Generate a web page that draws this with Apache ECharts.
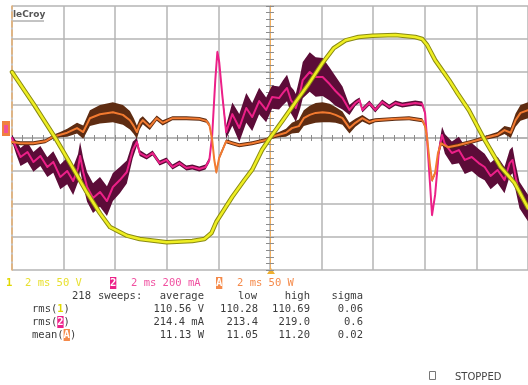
<!DOCTYPE html>
<html><head><meta charset="utf-8">
<script src="https://cdn.jsdelivr.net/npm/echarts@6/dist/echarts.min.js"></script>
<style>html,body{margin:0;padding:0;background:#fff}#c{width:528px;height:385px}</style>
</head><body><div id="c"></div>
<script>
// Channel 1: line voltage (V), 50 V/div
const timeV = [-10,-9.17,-8.32,-7.75,-7.09,-6.59,-6.2,-5.55,-5.05,-4.01,-3.01,-2.54,-2.27,-2.08,-1.77,-1.46,-1.0,-0.69,-0.31,0,0.5,1.0,1.5,2.04,2.47,2.93,3.43,3.97,4.86,5.63,5.9,6.09,6.4,6.94,7.28,7.71,8.28,8.94,9.48,10];
const volts = [100,52,0,-38,-83,-114,-135,-148,-153,-158,-156,-153,-144,-127,-108,-89,-64,-48,-18,0,27,55,82,114,136,148,153,155,156,153,150,141,118,88,67,42,0,-44,-68,-106];

// Channel 2: current (mA), 200 mA/div, with sweep spread (persistence envelope half-width)
const timeI = [-10,-9.83,-9.67,-9.4,-9.17,-8.9,-8.63,-8.4,-8.13,-7.86,-7.63,-7.44,-7.36,-7.24,-7.09,-6.86,-6.59,-6.32,-6.09,-5.82,-5.55,-5.32,-5.16,-5.05,-4.78,-4.55,-4.28,-4.01,-3.78,-3.51,-3.24,-3.01,-2.74,-2.5,-2.35,-2.24,-2.12,-2.04,-1.97,-1.85,-1.7,-1.46,-1.19,-0.92,-0.69,-0.42,-0.15,0.08,0.35,0.5,0.66,0.81,0.92,1.0,1.16,1.27,1.54,1.77,2.04,2.31,2.54,2.81,3.08,3.31,3.47,3.58,3.85,4.08,4.35,4.62,4.86,5.13,5.63,5.9,6.01,6.09,6.2,6.28,6.4,6.55,6.67,6.78,7.05,7.32,7.55,7.82,8.09,8.32,8.55,8.82,9.09,9.29,9.4,9.52,9.67,9.87,10];
const currentMA = [0,-61,-115,-85,-145,-109,-176,-145,-236,-200,-261,-182,-109,-206,-297,-364,-327,-382,-297,-255,-206,-73,-24,-91,-115,-91,-152,-133,-176,-152,-182,-176,-188,-176,-133,18,352,521,461,261,36,145,61,182,127,224,170,248,242,273,303,230,206,182,273,351,400,370,370,327,285,242,170,212,230,170,212,170,218,188,212,200,212,206,152,-12,-273,-467,-345,-73,18,-36,-91,-73,-133,-115,-152,-176,-230,-194,-255,-152,-133,-236,-345,-394,-424];
const currentSpreadMA = [20,40,55,60,60,60,60,65,75,80,85,85,85,85,90,90,90,90,85,80,70,50,25,18,15,15,15,15,15,15,15,15,15,15,15,12,12,12,12,15,40,70,85,90,85,80,75,70,70,75,80,80,85,85,100,110,120,120,115,100,90,70,30,18,15,15,15,15,15,15,15,15,15,15,12,12,12,12,12,30,50,60,70,80,85,85,85,80,80,80,80,80,80,80,80,80,80];

// Math channel A: power (W), 50 W/div
const timeP = [-10,-9.67,-9.17,-8.71,-8.4,-8.13,-7.86,-7.48,-7.24,-6.98,-6.59,-6.09,-5.7,-5.43,-5.28,-5.16,-5.05,-4.93,-4.66,-4.39,-4.16,-3.78,-3.24,-2.74,-2.47,-2.35,-2.24,-2.16,-2.08,-1.97,-1.7,-1.46,-1.19,-0.69,-0.15,0.08,0.35,0.62,0.85,1.12,1.31,1.54,1.77,2.04,2.31,2.54,2.81,3.08,3.31,3.58,3.85,4.08,4.86,5.39,5.9,6.01,6.09,6.2,6.28,6.4,6.51,6.63,6.9,7.28,7.78,8.32,8.82,9.09,9.33,9.52,9.71,10];
const powerW = [-6,-8,-8,-5,2,5,8,15,9,30,36,39,35,27,18,9,21,27,17,30,23,30,30,29,26,20,-3,-33,-52,-30,-5,-8,-11,-8,-3,2,5,8,15,18,30,35,38,39,38,35,30,15,23,30,24,27,29,30,27,18,0,-41,-64,-53,-23,-8,-14,-11,-6,0,5,12,8,27,38,42];
const powerSpreadW = [3,3,3,3,3,4,6,8,10,12,14,15,15,14,12,10,8,6,5,4,4,3,3,3,3,3,3,3,3,3,3,3,3,3,3,3,4,6,8,10,12,14,15,15,14,12,10,8,6,5,4,3,3,3,3,3,3,3,3,3,3,3,3,3,3,3,4,6,8,10,12,12];

// Text blocks
const channelLabels = ['2 ms 50 V', '2 ms 200 mA', '2 ms 50 W'];
const sweepCount = '218';
const statHeaders = ['average', 'low', 'high', 'sigma'];
const statNames = ['rms({y|1})', 'rms({p|2})', 'mean({o|A})'];
const statAverage = ['110.56 V', '214.4 mA', '11.13 W'];
const statLow = ['110.28', '213.4', '11.05'];
const statHigh = ['110.69', '219.0', '11.20'];
const statSigma = ['0.06', '0.6', '0.02'];

const zip = (a, b) => a.map((v, i) => [v, b[i]]);

const YEL = '#eeee22', YEL_EDGE = '#8a8a12';
const PINK = '#ec2088', MAROON = '#5c0c38';
const ORANGE = '#f27a30', BROWN = '#5e2c12';
const GRID = '#b4b4b4';
const MONO = '"DejaVu Sans Mono", "Liberation Mono", monospace';
const FONT = '10.5px ' + MONO;

function band(times, vals, spread, yIdx, color) {
  return {
    type: 'custom', xAxisIndex: 0, yAxisIndex: yIdx, clip: true, silent: true,
    data: [[times[0], vals[0]]],
    renderItem: function (params, api) {
      const up = [], lo = [];
      for (let i = 0; i < times.length; i++) {
        up.push(api.coord([times[i], vals[i] + spread[i]]));
        lo.push(api.coord([times[i], vals[i] - spread[i]]));
      }
      return { type: 'polygon', shape: { points: up.concat(lo.reverse()) }, style: { fill: color } };
    }
  };
}
function line(times, vals, yIdx, color, width) {
  return { type: 'line', xAxisIndex: 0, yAxisIndex: yIdx, data: zip(times, vals), symbol: 'none', showSymbol: false,
    silent: true, clip: true, lineStyle: { color: color, width: width, join: 'round', cap: 'round' } };
}
function txt(x, y, s, color, align, rich, font) {
  return { type: 'text', x: x, y: y, silent: true, z: 100,
    style: { text: s, fill: color, font: font || FONT, align: align || 'left', verticalAlign: 'middle',
      textAlign: align || 'left', textVerticalAlign: 'middle', rich: rich || {} } };
}
const boxRich = {
  y: { fill: '#e0d800', font: 'bold 10.5px ' + MONO },
  p: { fill: '#fff', backgroundColor: PINK, font: 'bold 10.5px ' + MONO, padding: [1, 0, 0, 0] },
  o: { fill: '#fff', backgroundColor: '#f58a4a', font: 'bold 10.5px ' + MONO, padding: [1, 0, 0, 0] }
};

const xBase = { type: 'value', min: -10, max: 10, interval: 2, axisLabel: { show: false } };
const yTickStyle = { color: '#8c8c8c', width: 1 };

const graphics = [
  txt(13, 15, 'leCroy', '#555', 'left', null, 'bold 9px "DejaVu Sans", sans-serif'),
  { type: 'line', silent: true, shape: { x1: 13, y1: 21, x2: 44, y2: 21 }, style: { stroke: '#888', lineWidth: 1 } },
  { type: 'rect', silent: true, shape: { x: 2, y: 121, width: 8, height: 15 }, style: { fill: '#f08040' } },
  { type: 'rect', silent: true, shape: { x: 4, y: 125, width: 4, height: 8 }, style: { fill: '#f05098' } },
  { type: 'polygon', silent: true, shape: { points: [[267, 274], [275, 274], [271, 268]] }, style: { fill: '#f0b030' } },
  txt(6, 283, '{y|1}', '#e0d800', 'left', boxRich),
  txt(25, 283, channelLabels[0], '#e8e030'),
  txt(110, 283, '{p|2}', PINK, 'left', boxRich),
  txt(131, 283, channelLabels[1], '#f050a0'),
  txt(216, 283, '{o|A}', '#f58a4a', 'left', boxRich),
  txt(237, 283, channelLabels[2], '#f58a4a'),
  txt(72, 296, sweepCount, '#3c3c3c'),
  txt(98, 296, 'sweeps:', '#3c3c3c'),
  txt(204, 296, statHeaders[0], '#3c3c3c', 'right'),
  txt(257, 296, statHeaders[1], '#3c3c3c', 'right'),
  txt(310, 296, statHeaders[2], '#3c3c3c', 'right'),
  txt(363, 296, statHeaders[3], '#3c3c3c', 'right'),
  { type: 'rect', silent: true, shape: { x: 429.5, y: 371.5, width: 6, height: 8 }, style: { fill: '#fff', stroke: '#777', lineWidth: 1 } },
  txt(455, 377, 'STOPPED', '#444', 'left', null, '10px "DejaVu Sans", sans-serif')
];
for (let r = 0; r < 3; r++) {
  const y = 309 + r * 13;
  graphics.push(txt(32, y, statNames[r], '#3c3c3c', 'left', boxRich));
  graphics.push(txt(204, y, statAverage[r], '#3c3c3c', 'right'));
  graphics.push(txt(258, y, statLow[r], '#3c3c3c', 'right'));
  graphics.push(txt(310, y, statHigh[r], '#3c3c3c', 'right'));
  graphics.push(txt(363, y, statSigma[r], '#3c3c3c', 'right'));
}

const option = {
  animation: false,
  backgroundColor: '#ffffff',
  grid: { left: 12, top: 6, width: 519, height: 264, show: false },
  xAxis: [
    Object.assign({}, xBase, { position: 'bottom',
      axisLine: { show: true, onZero: true, onZeroAxisIndex: 0, lineStyle: { color: GRID, width: 1.5 } },
      axisTick: { show: true, length: 3, lineStyle: yTickStyle },
      minorTick: { show: true, splitNumber: 5, length: 3, lineStyle: yTickStyle },
      splitLine: { show: true, lineStyle: { color: GRID, width: 1.5 } } }),
    Object.assign({}, xBase, { position: 'top',
      axisLine: { show: true, onZero: true, onZeroAxisIndex: 2, lineStyle: { color: GRID, width: 1.5 } },
      axisTick: { show: true, length: 3, lineStyle: yTickStyle },
      minorTick: { show: true, splitNumber: 5, length: 3, lineStyle: yTickStyle },
      splitLine: { show: false } })
  ],
  yAxis: [
    { type: 'value', min: -200, max: 200, interval: 50, position: 'left', axisLabel: { show: false },
      axisLine: { show: true, onZero: true, onZeroAxisIndex: 0, lineStyle: { color: '#f2b060', width: 1 } },
      axisTick: { show: true, length: 4, lineStyle: yTickStyle },
      minorTick: { show: true, splitNumber: 5, length: 4, lineStyle: yTickStyle },
      splitLine: { show: true, lineStyle: { color: GRID, width: 1.5 } } },
    { type: 'value', min: -800, max: 800, interval: 200, position: 'left', axisLabel: { show: false },
      axisLine: { show: true, onZero: false, lineStyle: { color: '#e8b070', width: 1.5, type: 'dashed' } },
      axisTick: { show: false }, splitLine: { show: false } },
    { type: 'value', min: -200, max: 200, interval: 50, position: 'right', axisLabel: { show: false },
      axisLine: { show: true, onZero: true, onZeroAxisIndex: 0, lineStyle: { color: '#f2b060', width: 1 } },
      axisTick: { show: true, length: 4, lineStyle: yTickStyle },
      minorTick: { show: true, splitNumber: 5, length: 4, lineStyle: yTickStyle },
      splitLine: { show: false } }
  ],
  series: [
    band(timeI, currentMA, currentSpreadMA, 1, MAROON),
    band(timeP, powerW, powerSpreadW, 2, BROWN),
    line(timeI, currentMA, 1, PINK, 2),
    line(timeP, powerW, 2, ORANGE, 2),
    line(timeV, volts, 0, YEL_EDGE, 4.5),
    line(timeV, volts, 0, YEL, 2.5)
  ],
  graphic: { elements: graphics }
};

const chart = echarts.init(document.getElementById('c'), null, { renderer: 'canvas', width: 528, height: 385 });
chart.setOption(option);
</script>
</body></html>
